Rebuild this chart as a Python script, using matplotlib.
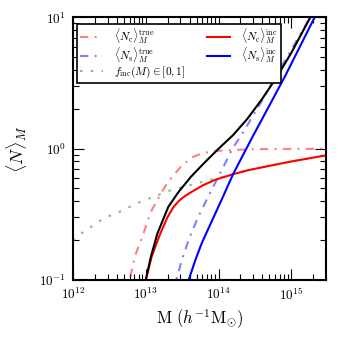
import numpy as np
import matplotlib
matplotlib.use("Agg")
import matplotlib.pyplot as plt
from matplotlib.ticker import NullFormatter

plt.rcParams['mathtext.fontset'] = 'cm'

# log10 of halo mass (h^-1 Msun) and mean occupation
logm_cen_true = [12.74, 12.78, 12.85, 12.96, 13.07, 13.22, 13.31, 13.50, 13.65, 13.79, 13.95, 14.11, 14.50, 15.48]
n_cen_true = [0.071, 0.100, 0.151, 0.219, 0.331, 0.468, 0.562, 0.750, 0.867, 0.929, 0.959, 0.975, 0.993, 1.000]

logm_sat_true = [13.38, 13.42, 13.50, 13.60, 13.72, 13.88, 14.09, 14.19, 14.34, 14.60, 14.90, 15.26, 15.35]
n_sat_true = [0.079, 0.100, 0.145, 0.209, 0.302, 0.457, 0.771, 1.00, 1.34, 2.34, 4.57, 10.0, 12.3]

logm_finc = [12.00, 12.05, 12.42, 12.69, 12.88, 13.10, 13.33, 13.56, 13.79, 14.02, 14.20, 14.41, 14.70, 15.00, 15.48]
f_inc = [0.200, 0.214, 0.295, 0.340, 0.385, 0.430, 0.479, 0.519, 0.562, 0.603, 0.640, 0.687, 0.741, 0.800, 0.891]

logm_cen_inc = [12.95, 13.00, 13.08, 13.20, 13.30, 13.38, 13.46, 13.54, 13.61, 13.78, 13.95, 14.20, 14.41, 14.70, 15.00, 15.48]
n_cen_inc = [0.076, 0.100, 0.150, 0.226, 0.302, 0.359, 0.403, 0.437, 0.462, 0.525, 0.579, 0.640, 0.687, 0.741, 0.800, 0.891]

logm_sat_inc = [13.55, 13.59, 13.68, 13.77, 13.90, 14.05, 14.20, 14.30, 14.48, 14.70, 14.92, 15.32, 15.40]
n_sat_inc = [0.085, 0.100, 0.141, 0.191, 0.275, 0.417, 0.640, 0.818, 1.27, 2.14, 3.62, 10.0, 12.3]

logm_tot = [12.95, 13.00, 13.07, 13.16, 13.31, 13.45, 13.62, 13.80, 14.00, 14.20, 14.40, 14.60, 14.80, 15.00, 15.26, 15.35]
n_tot = [0.076, 0.100, 0.150, 0.226, 0.361, 0.468, 0.611, 0.776, 1.00, 1.27, 1.70, 2.40, 3.51, 5.37, 10.0, 12.6]

x_ticks = [1e12, 1e13, 1e14, 1e15]
x_tick_labels = [r'$10^{12}$', r'$10^{13}$', r'$10^{14}$', r'$10^{15}$']
y_ticks = [0.1, 1, 10]
y_tick_labels = [r'$10^{-1}$', r'$10^{0}$', r'$10^{1}$']


def mass(logm):
    return 10 ** np.array(logm)


fig = plt.figure(figsize=(3.39, 3.37), dpi=100)
ax = fig.add_axes([0.2153, 0.1691, 0.7463, 0.779])

dashdot = (4, 3, 1, 3)
ax.plot(mass(logm_cen_true), n_cen_true, color='r', alpha=0.5, lw=1.5, dashes=dashdot,
        label=r'$\langle N_{\rm c}\rangle_M^{\rm true}$')
ax.plot(mass(logm_sat_true), n_sat_true, color='b', alpha=0.5, lw=1.5, dashes=dashdot,
        label=r'$\langle N_{\rm s}\rangle_M^{\rm true}$')
ax.plot(mass(logm_finc), f_inc, color='g', alpha=0.5, lw=1.5, dashes=(1.2, 4),
        label=r'$f_{\rm inc}(M) \in [0,1]$')
ax.plot(mass(logm_cen_inc), n_cen_inc, color='r', lw=1.5,
        label=r'$\langle N_{\rm c}\rangle_M^{\rm inc}$')
ax.plot(mass(logm_sat_inc), n_sat_inc, color='b', lw=1.5,
        label=r'$\langle N_{\rm s}\rangle_M^{\rm inc}$')
ax.plot(mass(logm_tot), n_tot, color='k', lw=1.5)

ax.set_xscale('log')
ax.set_yscale('log')
ax.set_xlim(1e12, 3e15)
ax.set_ylim(0.1, 10)
ax.set_xticks(x_ticks, labels=x_tick_labels)
ax.set_yticks(y_ticks, labels=y_tick_labels)
ax.xaxis.set_minor_formatter(NullFormatter())
ax.yaxis.set_minor_formatter(NullFormatter())

ax.tick_params(which='both', direction='in', top=True, right=True, labelsize=9.5, width=0.8)
ax.tick_params(which='major', length=8, pad=5)
ax.tick_params(which='minor', length=4.5)
for sp in ax.spines.values():
    sp.set_linewidth(1.5)

ax.set_xlabel(r'$\mathrm{M}\ (h^{-1}\mathrm{M}_{\odot})$', fontsize=12, labelpad=3)
ax.set_ylabel(r'$\langle N\rangle_M$', fontsize=13, labelpad=7)

leg = ax.legend(loc='upper left', bbox_to_anchor=(0.016, 0.977), borderaxespad=0, ncol=2,
                fontsize=8.2, fancybox=False, framealpha=1, edgecolor='k',
                handlelength=2.0, handletextpad=1.0, columnspacing=1.9, labelspacing=0.0,
                borderpad=0.25)
leg.get_frame().set_linewidth(1.2)

fig.savefig('out.png', dpi=100)
